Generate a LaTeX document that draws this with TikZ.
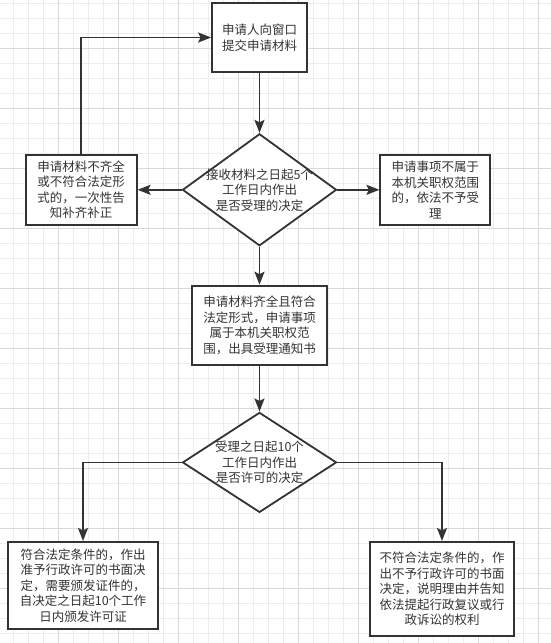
\documentclass[tikz,border=0pt]{standalone}
\usepackage{fontspec}
\setmainfont{Noto Sans CJK SC}
\usetikzlibrary{positioning,arrows.meta,shapes.geometric}
\definecolor{ink}{HTML}{333333}
\definecolor{gridminor}{HTML}{EDEDED}
\definecolor{gridmajor}{HTML}{D9D9D9}

\begin{document}
\begin{tikzpicture}[x=1pt, y=1pt,
      box/.style={draw=ink, line width=1.8pt, fill=white, text=ink, align=center, inner sep=2pt},
      decision/.style={draw=ink, line width=1.8pt, fill=white, diamond, inner sep=0pt},
      flow/.style={draw=ink, line width=1.8pt},
      >={Stealth[length=13pt, width=10pt, inset=2.5pt]},
      font=\fontsize{12.5}{15.5}\selectfont
    ]
    \useasboundingbox (0,0) rectangle (551,-643);
    \fill[white] (0,0) rectangle (551,-643);
    \foreach \gx in {13,28,...,550} \draw[gridminor, line width=0.8pt] (\gx,0) -- (\gx,-643);
    \foreach \gy in {3,18,...,643} \draw[gridminor, line width=0.8pt] (0,-\gy) -- (551,-\gy);
    \foreach \gx in {58,118,...,550} \draw[gridmajor, line width=0.8pt] (\gx,0) -- (\gx,-643);
    \foreach \gy in {48,108,...,643} \draw[gridmajor, line width=0.8pt] (0,-\gy) -- (551,-\gy);

    \node[box, minimum width=95pt, minimum height=69pt] (apply) at (259.5,-37.5) {申请人向窗口\\提交申请材料};
    \node[decision, minimum width=154pt, minimum height=112pt, below=60pt of apply,
      label={[text=ink, align=center]center:接收材料之日起5个\\工作日内作出\\是否受理的决定}] (check) {};
    \node[box, minimum width=111pt, minimum height=70pt, left=44pt of check] (incomplete)
      {申请材料不齐全\\或不符合法定形\\式的，一次性告\\知补齐补正};
    \node[box, minimum width=110pt, minimum height=70pt, right=42pt of check] (outscope)
      {申请事项不属于\\本机关职权范围\\的，依法不予受\\理};
    \node[box, minimum width=135pt, minimum height=79pt, below=38pt of check] (accept)
      {申请材料齐全且符合\\法定形式，申请事项\\属于本机关职权范\\围，出具受理通知书};
    \node[decision, minimum width=154pt, minimum height=100pt, below=46pt of accept,
      label={[text=ink, align=center]center:受理之日起10个\\工作日内作出\\是否许可的决定}] (permit) {};
    \node[box, minimum width=150pt, minimum height=87pt, anchor=north] (grant) at (83,-541)
      {符合法定条件的，作出\\准予行政许可的书面决\\定，需要颁发证件的，\\自决定之日起10个工作\\日内颁发许可证};
    \node[box, minimum width=144pt, minimum height=94pt, anchor=north] (reject) at (442,-541)
      {不符合法定条件的，作\\出不予行政许可的书面\\决定，说明理由并告知\\依法提起行政复议或行\\政诉讼的权利};

    \draw[flow,->] (apply) -- (check);
    \draw[flow,->] (check) -- (incomplete);
    \draw[flow,->] (check) -- (outscope);
    \draw[flow,->] (incomplete.north) |- (apply.west);
    \draw[flow,->] (check) -- (accept);
    \draw[flow,->] (accept) -- (permit);
    \draw[flow,->] (permit.west) -| (grant.north);
    \draw[flow,->] (permit.east) -| (reject.north);
  \end{tikzpicture}
\end{document}
